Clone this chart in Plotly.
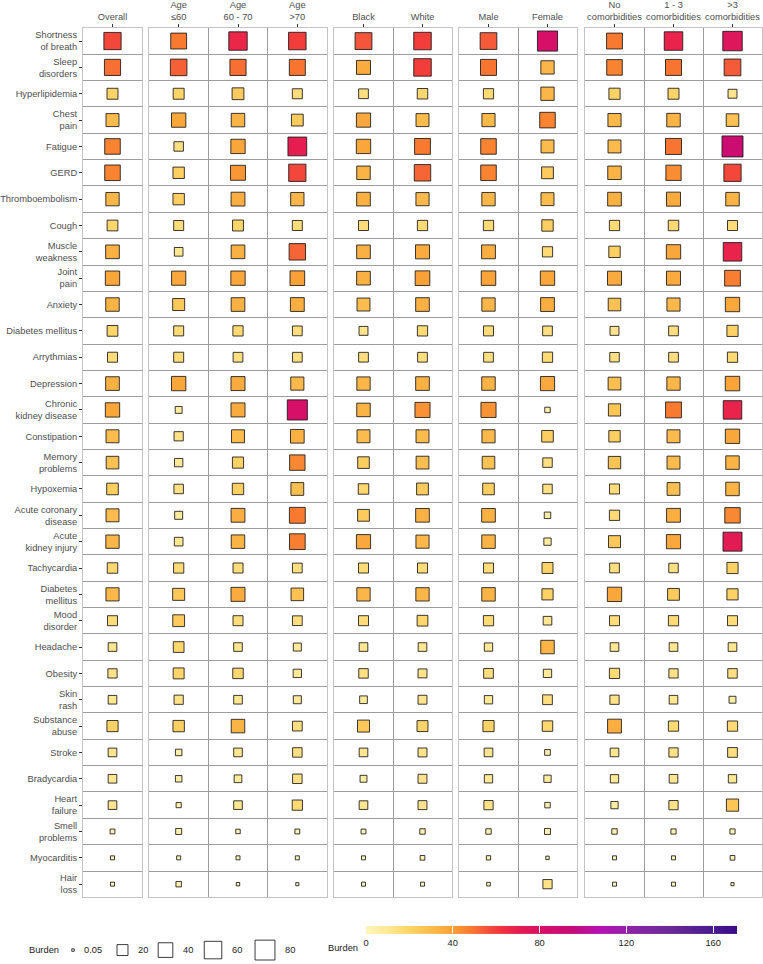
import numpy as np
import plotly.graph_objects as go

# ---------------- data ----------------
symptoms = ["Shortness<br>of breath", "Sleep<br>disorders", "Hyperlipidemia", "Chest<br>pain",
            "Fatigue", "GERD", "Thromboembolism", "Cough", "Muscle<br>weakness", "Joint<br>pain",
            "Anxiety", "Diabetes mellitus", "Arrythmias", "Depression", "Chronic<br>kidney disease",
            "Constipation", "Memory<br>problems", "Hypoxemia", "Acute coronary<br>disease",
            "Acute<br>kidney injury", "Tachycardia", "Diabetes<br>mellitus", "Mood<br>disorder",
            "Headache", "Obesity", "Skin<br>rash", "Substance<br>abuse", "Stroke", "Bradycardia",
            "Heart<br>failure", "Smell<br>problems", "Myocarditis", "Hair<br>loss"]

overall    = [58, 50, 20, 30, 46, 46, 32, 19, 34, 38, 33, 19, 16, 34, 38, 30, 28, 23, 30, 32, 18, 31, 16, 11, 13, 11, 21, 11, 11, 11, 2, 1, 1]
age_le60   = [48, 53, 20, 38, 14, 22, 22, 16, 11, 37, 25, 16, 16, 38, 6, 13, 10, 14, 9, 11, 17, 25, 24, 19, 20, 13, 22, 5, 5, 2.5, 4, 1, 3]
age_60_70  = [67, 50, 24, 33, 38, 42, 35, 20, 34, 38, 34, 17, 15, 36, 36, 30, 21, 22, 35, 33, 16, 36, 16, 11, 18, 11, 33, 11, 8, 11, 1.5, 1, 0.5]
age_gt70   = [60, 49, 16, 24, 70, 58, 32, 16, 52, 40, 35, 15, 15, 31, 82, 34, 45, 29, 48, 47, 15, 28, 15, 9, 10, 9, 15, 14, 14, 17, 2, 1, 0.3]
black      = [55, 36, 15, 37, 38, 33, 34, 16, 34, 34, 30, 12, 15, 32, 33, 30, 23, 18, 24, 37, 16, 32, 16, 11, 14, 8, 25, 11, 6, 11, 2, 1, 1]
white      = [60, 60, 18, 30, 48, 52, 31, 17, 36, 40, 34, 17, 15, 34, 43, 30, 29, 24, 34, 31, 16, 32, 19, 11, 12, 12, 20, 12, 12, 12, 3, 1.8, 1]
male       = [54, 49, 17, 31, 46, 46, 32, 17, 35, 39, 32, 16, 15, 33, 43, 31, 28, 23, 34, 33, 16, 33, 17, 10, 15, 10, 21, 11, 10, 13, 3, 1.3, 0.7]
female     = [82, 32, 32, 46, 30, 24, 30, 22, 17, 38, 35, 15, 17, 37, 3, 23, 14, 14, 5, 7, 20, 21, 11, 33, 10, 15, 18, 3.5, 7, 3, 4, 0.5, 13]
no_comorb  = [48, 46, 21, 31, 30, 33, 34, 17, 22, 36, 28, 12, 14, 29, 26, 22, 27, 16, 17, 25, 15, 38, 16, 11, 17, 13, 35, 11, 10, 7, 3, 1, 1]
comorb_1_3 = [68, 49, 20, 33, 49, 44, 36, 18, 38, 36, 31, 15, 15, 32, 48, 30, 30, 29, 35, 37, 14, 24, 17, 11, 13, 11, 17, 13, 11, 13, 2.5, 1, 1]
comorb_gt3 = [76, 54, 12, 28, 90, 58, 33, 16, 68, 47, 38, 21, 17, 39, 68, 38, 33, 33, 45, 72, 21, 21, 16, 11, 14, 6, 17, 15, 10, 26, 2.5, 1.8, 0.3]

panel_labels = [
    ["Overall"],
    ["Age<br>≤60", "Age<br>60 - 70", "Age<br>>70"],
    ["Black", "White"],
    ["Male", "Female"],
    ["No<br>comorbidities", "1 - 3<br>comorbidities", ">3<br>comorbidities"],
]
panel_series = [
    [overall],
    [age_le60, age_60_70, age_gt70],
    [black, white],
    [male, female],
    [no_comorb, comorb_1_3, comorb_gt3],
]

size_breaks = [0.05, 20, 40, 60, 80]
color_ticks = [0, 40, 80, 120, 160]

# ---------------- style / layout ----------------
W, H = 763, 964
FONT = "Liberation Sans, Arial, sans-serif"
panel_px = [(83, 142), (149, 327), (334, 452), (459, 577), (585, 762)]
plot_top, plot_bot = 23, 897
cmin, cmax = 0, 171

color_stops = [(0, "#FFF5BA"), (10, "#FFE896"), (20, "#FDD467"), (30, "#FBBC4D"),
               (40, "#F9A037"), (48, "#F87A30"), (55, "#F5553A"), (62, "#F1343C"),
               (70, "#E61D50"), (82, "#D60F68"), (95, "#C40C78"), (108, "#B412B2"),
               (120, "#9024A6"), (140, "#6A2A94"), (160, "#4A1A8E"), (171, "#3A0C86")]
colorscale = [[v / cmax, c] for v, c in color_stops]


def msize(v):
    return 2.0 + 2.0 * np.sqrt(np.asarray(v, dtype=float))


fig = go.Figure()
yidx = np.arange(len(symptoms))
layout = dict(
    width=W, height=H, autosize=False,
    margin=dict(l=0, r=0, t=0, b=0),
    paper_bgcolor="white", plot_bgcolor="white",
    showlegend=False,
    font=dict(family=FONT, size=9.3, color="#4D4D4D"),
    coloraxis=dict(
        cmin=cmin, cmax=cmax, colorscale=colorscale,
        colorbar=dict(
            orientation="h", x=366 / W, xanchor="left", len=371 / W, lenmode="fraction",
            y=(H - 941) / H, yanchor="middle", thickness=8, xpad=0, ypad=0,
            outlinewidth=0, tickmode="array", tickvals=color_ticks,
            ticks="inside", ticklen=8, tickcolor="white", tickwidth=1,
            tickfont=dict(family=FONT, size=9.3, color="#222222"),
        ),
    ),
    annotations=[],
)

grid_col = "#9C9C9C"
for p, (labels, series) in enumerate(zip(panel_labels, panel_series)):
    i = p + 1
    xa = "x" if i == 1 else f"x{i}"
    ya = "y" if i == 1 else f"y{i}"
    n = len(labels)
    for j, vals in enumerate(series):
        fig.add_trace(go.Scatter(
            x=[j] * len(vals), y=yidx, mode="markers", xaxis=xa, yaxis=ya,
            marker=dict(symbol="square", size=msize(vals), color=vals, coloraxis="coloraxis",
                        opacity=1, line=dict(color="rgba(25,25,25,0.85)", width=1)),
            hoverinfo="skip",
        ))
    x0, x1 = panel_px[p]
    layout["xaxis" if i == 1 else f"xaxis{i}"] = dict(
        domain=[x0 / W, x1 / W], anchor=ya, side="top", range=[-0.5, n - 0.5],
        tickmode="array", tickvals=list(range(n)), ticktext=labels,
        showgrid=False, zeroline=False,
        minor=dict(tickmode="array", tickvals=[k + 0.5 for k in range(n - 1)],
                   showgrid=True, gridcolor=grid_col, gridwidth=0.8, ticks=""),
        showline=True, mirror=True, linecolor="#C4C4C4", linewidth=1,
        ticks="outside", ticklen=3, tickcolor="#333333", tickwidth=1,
        tickfont=dict(family=FONT, size=9.3, color="#4D4D4D"), fixedrange=True,
    )
    layout["yaxis" if i == 1 else f"yaxis{i}"] = dict(
        domain=[(H - plot_bot) / H, (H - plot_top) / H], anchor=xa,
        range=[len(symptoms) - 0.5, -0.5],
        tickmode="array", tickvals=list(yidx), ticktext=symptoms,
        showticklabels=(i == 1), ticks="outside" if i == 1 else "",
        ticklen=3, tickcolor="#333333", tickwidth=1,
        showgrid=False, zeroline=False,
        minor=dict(tickmode="array", tickvals=[k + 0.5 for k in range(len(symptoms) - 1)],
                   showgrid=True, gridcolor=grid_col, gridwidth=0.8, ticks=""),
        showline=True, mirror=True, linecolor="#C4C4C4", linewidth=1,
        tickfont=dict(family=FONT, size=9.3, color="#4D4D4D"), fixedrange=True,
    )

# ---------------- size legend ----------------
size_key_x = [73, 122.5, 165.5, 213, 265]
ks = msize(size_breaks)
fig.add_trace(go.Scatter(
    x=size_key_x, y=[0] * len(size_breaks), mode="markers", xaxis="x6", yaxis="y6",
    marker=dict(symbol="square", size=ks, color="white", opacity=1,
                line=dict(color="rgba(25,25,25,0.85)", width=1)),
    hoverinfo="skip",
))
layout["xaxis6"] = dict(domain=[0, 1], range=[0, W], visible=False, fixedrange=True, anchor="y6")
layout["yaxis6"] = dict(domain=[2 / H, 26 / H], range=[-1, 1], visible=False, fixedrange=True, anchor="x6")
for xk, s, b in zip(size_key_x, ks, size_breaks):
    layout["annotations"].append(dict(
        x=xk + s / 2 + 8, y=0, xref="x6", yref="y6", xanchor="left", yanchor="middle",
        text=f"{b:g}", showarrow=False, font=dict(family=FONT, size=9.3, color="#222222")))
layout["annotations"].append(dict(
    x=27 / W, y=(H - 950) / H, xref="paper", yref="paper", xanchor="left", yanchor="middle",
    text="Burden", showarrow=False, font=dict(family=FONT, size=9.3, color="#222222")))
layout["annotations"].append(dict(
    x=326 / W, y=(H - 948) / H, xref="paper", yref="paper", xanchor="left", yanchor="middle",
    text="Burden", showarrow=False, font=dict(family=FONT, size=9.3, color="#222222")))

fig.update_layout(**layout)
fig.write_html("out.html", config={"displayModeBar": False},
               post_script="document.body.style.margin='0px';document.body.style.overflow='hidden';")
